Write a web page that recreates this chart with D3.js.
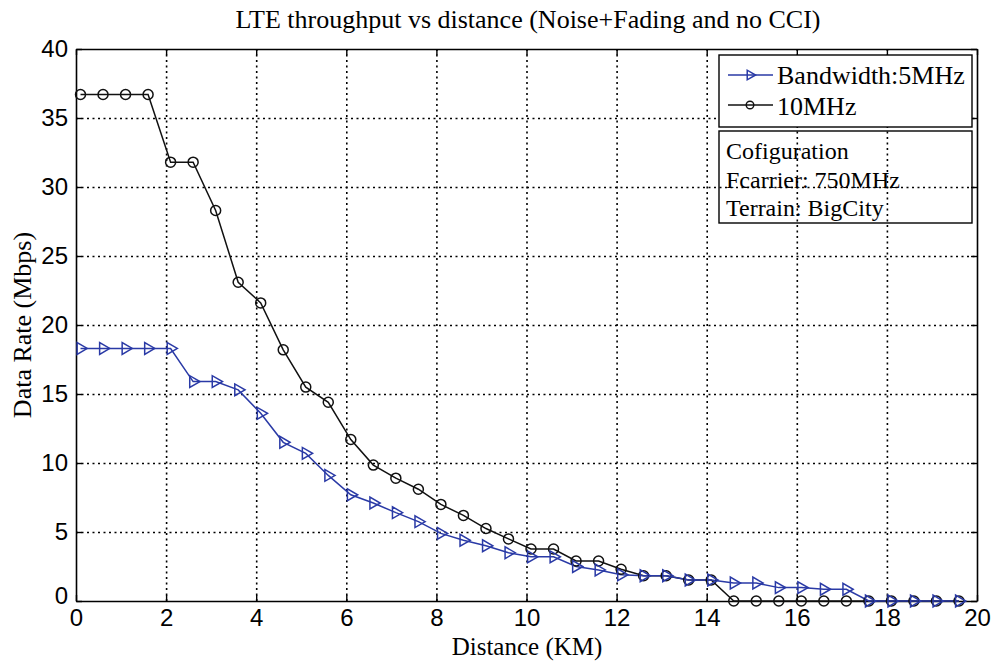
<html>
<head>
<script src="https://d3js.org/d3.v7.min.js"></script>
<style>
  body { margin: 0; background: #fff; }
  .tick text { font-family: "Liberation Sans", Arial, sans-serif; }
</style>
</head>
<body>
<div id="chart"></div>
<script>
// distance (km) of each sample
const distance = [0.1, 0.6, 1.1, 1.6, 2.1, 2.6, 3.1, 3.6, 4.1, 4.6,
                  5.1, 5.6, 6.1, 6.6, 7.1, 7.6, 8.1, 8.6, 9.1, 9.6,
                  10.1, 10.6, 11.1, 11.6, 12.1, 12.6, 13.1, 13.6, 14.1, 14.6,
                  15.1, 15.6, 16.1, 16.6, 17.1, 17.6, 18.1, 18.6, 19.1, 19.6];
// Bandwidth 5MHz (Mbps)
const bw5 = [18.3, 18.3, 18.3, 18.3, 18.3, 15.9, 15.9, 15.3, 13.6, 11.5,
             10.7, 9.1, 7.7, 7.1, 6.4, 5.75, 4.9, 4.4, 4.0, 3.5,
             3.2, 3.2, 2.5, 2.25, 1.9, 1.83, 1.83, 1.52, 1.52, 1.3,
             1.3, 0.97, 0.97, 0.85, 0.85, 0, 0, 0, 0, 0];
// 10MHz (Mbps)
const bw10 = [36.7, 36.7, 36.7, 36.7, 31.8, 31.8, 28.3, 23.1, 21.6, 18.2,
              15.5, 14.4, 11.7, 9.85, 8.9, 8.1, 7.0, 6.2, 5.25, 4.5,
              3.77, 3.77, 2.9, 2.9, 2.3, 1.83, 1.83, 1.52, 1.52, 0,
              0, 0, 0, 0, 0, 0, 0, 0, 0, 0];
const xTicks = [0, 2, 4, 6, 8, 10, 12, 14, 16, 18, 20];
const yTicks = [0, 5, 10, 15, 20, 25, 30, 35, 40];
const configLines = ["Cofiguration", "Fcarrier: 750MHz", "Terrain: BigCity"];

const W = 994, H = 662;
const pLeft = 76, pRight = 977, pTop = 49, pBottom = 601;
const blue = "#2a3aa6";
const serif = "'Liberation Serif', 'Times New Roman', serif";

const svg = d3.select("#chart").append("svg")
  .attr("width", W).attr("height", H)
  .style("background", "#fff");

const x = d3.scaleLinear().domain([0, 20]).range([pLeft, pRight]);
const y = d3.scaleLinear().domain([0, 40]).range([pBottom, pTop]);

// grid
svg.append("g")
  .attr("transform", "translate(0," + pBottom + ")")
  .call(d3.axisBottom(x).tickValues(xTicks.slice(1, -1)).tickSize(-(pBottom - pTop)).tickFormat(""))
  .call(g => g.select(".domain").remove())
  .call(g => g.selectAll("line").attr("class", "grid").attr("stroke", "#000").attr("stroke-width", 1.6).attr("stroke-dasharray", "2,3.5"));
svg.append("g")
  .attr("transform", "translate(" + pLeft + ",0)")
  .call(d3.axisLeft(y).tickValues(yTicks.slice(1, -1)).tickSize(-(pRight - pLeft)).tickFormat(""))
  .call(g => g.select(".domain").remove())
  .call(g => g.selectAll("line").attr("class", "grid").attr("stroke", "#000").attr("stroke-width", 1.6).attr("stroke-dasharray", "2,3.5"));

// axes with inward ticks
const xAxis = svg.append("g")
  .attr("transform", "translate(0," + pBottom + ")")
  .call(d3.axisBottom(x).tickValues(xTicks).tickSizeInner(-6).tickSizeOuter(0).tickPadding(8));
const yAxis = svg.append("g")
  .attr("transform", "translate(" + pLeft + ",0)")
  .call(d3.axisLeft(y).tickValues(yTicks).tickSizeInner(-6).tickSizeOuter(0).tickPadding(8));
svg.append("g")
  .attr("transform", "translate(0," + pTop + ")")
  .call(d3.axisTop(x).tickValues(xTicks).tickSizeInner(-6).tickSizeOuter(0).tickFormat(""));
svg.append("g")
  .attr("transform", "translate(" + pRight + ",0)")
  .call(d3.axisRight(y).tickValues(yTicks).tickSizeInner(-6).tickSizeOuter(0).tickFormat(""));
svg.selectAll(".domain").attr("stroke", "#000").attr("stroke-width", 1.6);
svg.selectAll(".tick line:not(.grid)").attr("stroke", "#000").attr("stroke-width", 1.4);
xAxis.selectAll("text").style("font-size", "24px").attr("fill", "#000").attr("dy", "0.72em");
yAxis.selectAll("text").style("font-size", "24px").attr("fill", "#000");
yAxis.selectAll(".tick").filter(d => d === 0).select("text").attr("dy", "0.1em");

// series
const line = d3.line().x(d => x(d[0])).y(d => y(d[1]));
const s5 = distance.map((d, i) => [d, bw5[i]]);
const s10 = distance.map((d, i) => [d, bw10[i]]);

svg.append("path").datum(s10).attr("d", line)
  .attr("fill", "none").attr("stroke", "#111").attr("stroke-width", 1.5);
svg.append("path").datum(s5).attr("d", line)
  .attr("fill", "none").attr("stroke", blue).attr("stroke-width", 1.5);

svg.selectAll("circle.p10").data(s10).enter().append("circle")
  .attr("class", "p10")
  .attr("cx", d => x(d[0])).attr("cy", d => y(d[1])).attr("r", 5)
  .attr("fill", "none").attr("stroke", "#111").attr("stroke-width", 1.5);

const tri = d3.symbol().type(d3.symbolTriangle).size(60);
svg.selectAll("path.p5").data(s5).enter().append("path")
  .attr("class", "p5")
  .attr("d", tri)
  .attr("transform", d => "translate(" + x(d[0]) + "," + y(d[1]) + ") rotate(90)")
  .attr("fill", "none").attr("stroke", blue).attr("stroke-width", 1.5);

// legend
const lg = svg.append("g");
lg.append("rect").attr("x", 719).attr("y", 55).attr("width", 253).attr("height", 72)
  .attr("fill", "#fff").attr("stroke", "#000").attr("stroke-width", 1.4);
lg.append("line").attr("x1", 728).attr("x2", 773).attr("y1", 75).attr("y2", 75)
  .attr("stroke", blue).attr("stroke-width", 1.5);
lg.append("path").attr("d", d3.symbol().type(d3.symbolTriangle).size(40))
  .attr("transform", "translate(750,75) rotate(90)")
  .attr("fill", "none").attr("stroke", blue).attr("stroke-width", 1.5);
lg.append("text").attr("x", 777).attr("y", 84).text("Bandwidth:5MHz")
  .style("font-family", serif).style("font-size", "26px");
lg.append("line").attr("x1", 728).attr("x2", 773).attr("y1", 105).attr("y2", 105)
  .attr("stroke", "#111").attr("stroke-width", 1.5);
lg.append("circle").attr("cx", 750).attr("cy", 105).attr("r", 3.8)
  .attr("fill", "none").attr("stroke", "#111").attr("stroke-width", 1.4);
lg.append("text").attr("x", 777).attr("y", 115).text("10MHz")
  .style("font-family", serif).style("font-size", "26px");

lg.append("rect").attr("x", 719).attr("y", 131).attr("width", 253).attr("height", 92)
  .attr("fill", "none").attr("stroke", "#000").attr("stroke-width", 1.4);
lg.selectAll("text.cfg").data(configLines).enter().append("text")
  .attr("class", "cfg")
  .attr("x", 726).attr("y", (d, i) => 159 + i * 28.5)
  .text(d => d)
  .style("font-family", serif).style("font-size", "24px");

// titles
svg.append("text").attr("x", 528).attr("y", 28).attr("text-anchor", "middle")
  .style("font-family", serif).style("font-size", "26px")
  .text("LTE throughput vs distance (Noise+Fading and no CCI)");
svg.append("text").attr("x", 527).attr("y", 655).attr("text-anchor", "middle")
  .style("font-family", serif).style("font-size", "25px")
  .text("Distance (KM)");
svg.append("text").attr("transform", "translate(31,325) rotate(-90)")
  .attr("text-anchor", "middle")
  .style("font-family", serif).style("font-size", "26px")
  .text("Data Rate (Mbps)");
</script>
</body>
</html>
